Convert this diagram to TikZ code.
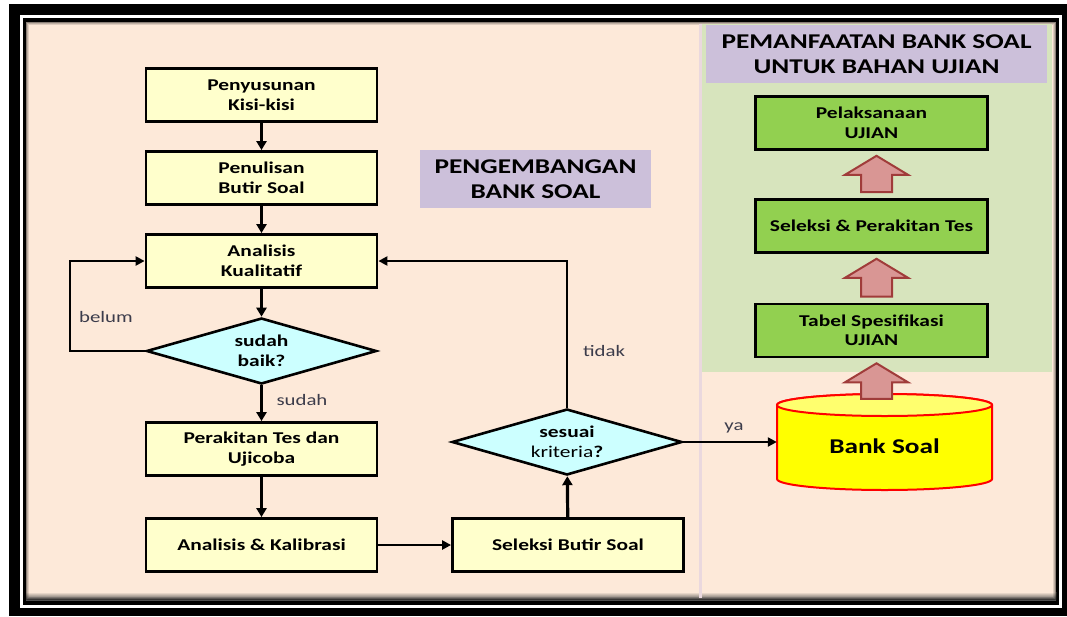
\documentclass[tikz,border=0pt]{standalone}
\usepackage{fontspec}
\setmainfont{Carlito}[FakeStretch=1.3]
\usetikzlibrary{arrows.meta,shapes.geometric,calc}

\definecolor{latar}{RGB}{253,233,217}
\definecolor{hijaumuda}{RGB}{215,228,189}
\definecolor{ungu}{RGB}{204,192,218}
\definecolor{kuning}{RGB}{255,255,204}
\definecolor{biru}{RGB}{204,255,255}
\definecolor{hijau}{RGB}{146,208,80}
\definecolor{merahmuda}{RGB}{217,150,148}
\definecolor{merahtua}{RGB}{160,60,58}
\definecolor{kuningtua}{RGB}{255,255,0}
\definecolor{kuningterang}{RGB}{255,255,110}
\definecolor{abu}{RGB}{60,60,75}
\definecolor{garis}{RGB}{234,216,222}

\tikzset{
	kotak/.style={draw, line width=2.8pt, fill=kuning, minimum width=231pt, minimum height=53pt, inner sep=0pt, align=center, font=\fontsize{16.5}{19.5}\selectfont\bfseries},
	tanya/.style={diamond, draw, line width=2.6pt, fill=biru, aspect=3.4, inner sep=0pt, minimum width=230pt, minimum height=66pt, align=center, font=\fontsize{16.5}{19.5}\selectfont\bfseries},
	hijaubox/.style={draw, line width=2.6pt, fill=hijau, minimum width=232pt, minimum height=53pt, inner sep=0pt, align=center, font=\fontsize{16.5}{19.5}\selectfont\bfseries},
	judul/.style={fill=ungu, inner sep=0pt, align=center, font=\fontsize{21}{24.5}\selectfont\bfseries},
	ket/.style={text=abu, inner sep=0pt, font=\fontsize{16}{19}\selectfont},
	panah/.style={line width=3.2pt, -{Triangle[length=9pt,width=10pt]}},
	panahtipis/.style={line width=2.4pt, -{Triangle[length=9pt,width=9pt]}},
	blok/.style={draw=merahtua, line width=2pt, fill=merahmuda, line join=miter},
}

\begin{document}
\begin{tikzpicture}[x=1pt,y=-1pt]
	\useasboundingbox (0,0) rectangle (1067,616);
	\fill[black] (9,4) rectangle (1067,616);
	\fill[white] (20,15) rectangle (1062,607.5);
	\fill[black] (22.5,17.5) rectangle (1059,604.5);
	\fill[latar] (26,22) rectangle (1056,600);
	\shade[top color=latar, bottom color=black!70] (26,592) rectangle (1056,600);
	\draw[black,opacity=0.45,line width=1pt] (26.5,22.5) rectangle (1055.5,599.5);
	\draw[black,opacity=0.25,line width=1pt] (27.5,23.5) rectangle (1054.5,598.5);
	\draw[black,opacity=0.12,line width=1pt] (28.5,24.5) rectangle (1053.5,597.5);
	\fill[garis] (699,24) rectangle (702,598);
	\fill[hijaumuda] (702,24) rectangle (1052,372);

	\node[judul, minimum width=231pt, minimum height=58pt] (judulkiri) at (535.5,179) {PENGEMBANGAN\\BANK SOAL};
	\node[judul, minimum width=341pt, minimum height=58pt] (judulkanan) at (876.5,54) {PEMANFAATAN BANK SOAL\\UNTUK BAHAN UJIAN};

	\node[kotak] (kisi) at (261.5,95) {Penyusunan\\Kisi-kisi};
	\node[kotak] (tulis) at (261.5,178) {Penulisan\\Butir Soal};
	\node[kotak] (kual) at (261.5,261) {Analisis\\Kualitatif};
	\node[tanya] (baik) at (261.5,351) {sudah\\baik?};
	\node[kotak] (rakit) at (261.5,449) {Perakitan Tes dan\\Ujicoba};
	\node[kotak] (kalib) at (261.5,545) {Analisis \& Kalibrasi};
	\node[kotak] (seleksi) at (568,545) {Seleksi Butir Soal};
	\node[tanya] (sesuai) at (567,442) {sesuai\\{\mdseries kriteria}?};

	\node[hijaubox] (laksana) at (871.5,123) {Pelaksanaan\\UJIAN};
	\node[hijaubox] (pilih) at (871.5,226) {Seleksi \& Perakitan Tes};
	\node[hijaubox] (spek) at (871.5,330.5) {Tabel Spesifikasi\\UJIAN};

	% tabung bank soal
	\coordinate (bankpusat) at (884.5,442);
	\draw[draw=red, line width=2pt, fill=kuningtua] (bankpusat) ++(-107.5,-37) -- ++(0,74)
		arc[start angle=180, end angle=360, x radius=107.5pt, y radius=11pt] -- ++(0,-74)
		arc[start angle=0, end angle=180, x radius=107.5pt, y radius=11pt] -- cycle;
	\draw[draw=red, line width=2pt, fill=kuningterang] (bankpusat) ++(0,-37) ellipse[x radius=107.5pt, y radius=11pt];
	\node[minimum width=215pt, minimum height=74pt, inner sep=0pt, font=\fontsize{21}{24}\selectfont\bfseries] (bank) at (bankpusat) {\smash{\raisebox{-11.7pt}{Bank Soal}}};

	\node[ket] (belum) at (106,317) {belum};
	\node[ket] (sudah) at (302,400) {sudah};
	\node[ket] (tidak) at (604,351) {tidak};
	\node[ket] (ya) at (734,428) {ya};

	\draw[panah] (kisi) -- (tulis);
	\draw[panah] (tulis) -- (kual);
	\draw[panah] (kual) -- (baik);
	\draw[panahtipis] (baik.west) -- ++(-75,0) |- (kual.west);
	\draw[panah] (baik) -- (rakit);
	\draw[panah] (rakit) -- (kalib);
	\draw[panahtipis] (kalib) -- (seleksi);
	\draw[panah] (seleksi) -- (sesuai);
	\draw[panahtipis] (sesuai.north) |- (kual.east);
	\draw[panahtipis] (sesuai.east) -- (bank.west);

	\foreach \bawah/\atas in {bank/spek,spek/pilih,pilih/laksana}
		\draw[blok] let \p1=([xshift=5pt,yshift=-5pt]\atas.south), \p2=([yshift=6pt]\bawah.north) in
			(\x1,\y1) -- (\x1+31.5pt,\y1-19pt) -- (\x1+15.5pt,\y1-19pt) -- (\x1+15.5pt,\y2)
			-- (\x1-15.5pt,\y2) -- (\x1-15.5pt,\y1-19pt) -- (\x1-31.5pt,\y1-19pt) -- cycle;
\end{tikzpicture}
\end{document}
